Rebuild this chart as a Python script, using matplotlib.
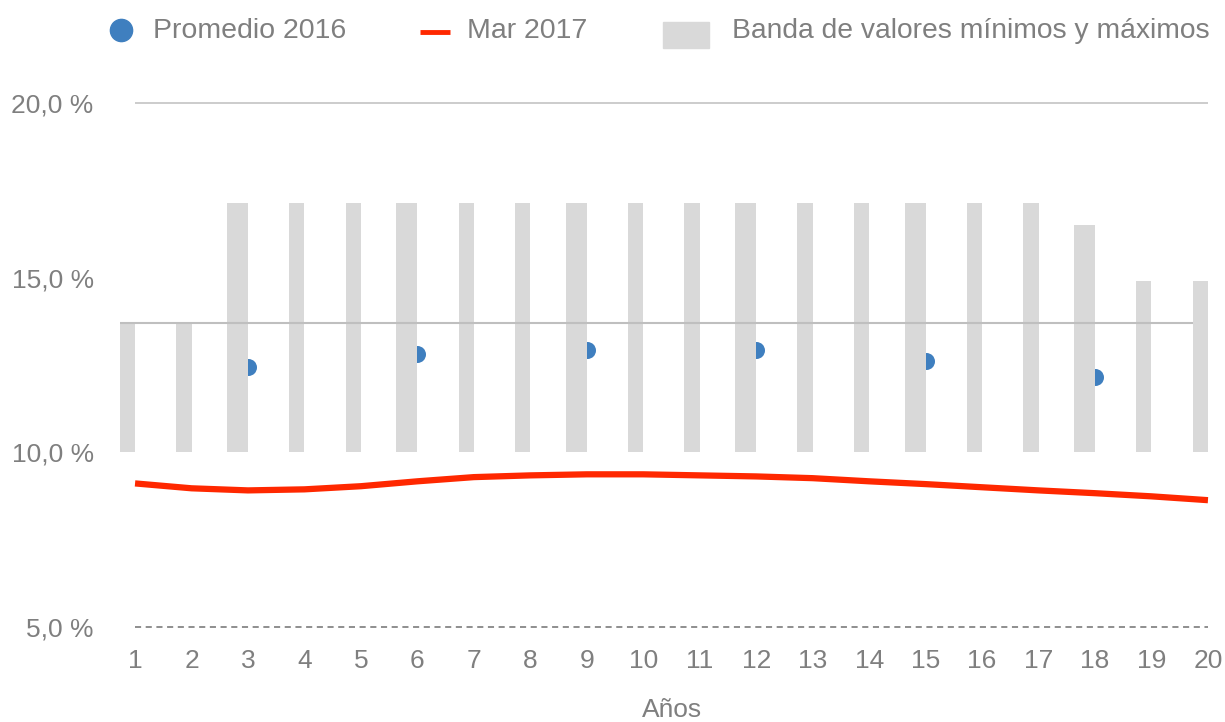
import numpy as np
import matplotlib
matplotlib.use("Agg")
import matplotlib.pyplot as plt
from matplotlib.lines import Line2D
from matplotlib.patches import Rectangle

plt.rcParams['font.family'] = ['Liberation Sans', 'DejaVu Sans']

# datos
anios = list(range(1, 21))
banda_min = [10.0] * 20
banda_max = [13.7, 13.7, 17.15, 17.15, 17.15, 17.15, 17.15, 17.15, 17.15, 17.15,
             17.15, 17.15, 17.15, 17.15, 17.15, 17.15, 17.15, 16.5, 14.9, 14.9]
prom_anios = [3, 6, 9, 12, 15, 18]
prom_2016 = [12.45, 12.82, 12.93, 12.93, 12.62, 12.15]
mar_2017 = [9.11, 8.97, 8.91, 8.94, 9.03, 9.17, 9.29, 9.34, 9.37, 9.37,
            9.34, 9.31, 9.26, 9.17, 9.09, 9.00, 8.91, 8.83, 8.74, 8.63]
nivel_ref = 13.7

txt = '#7f7f7f'
gris = '#d9d9d9'
azul = '#3f7fbf'
rojo = '#ff2800'

W, H = 1225, 722
fig = plt.figure(figsize=(W / 100, H / 100), dpi=100)
ax = fig.add_axes([0.0918, 0.1219, 0.9072, 0.7452])

# bandas: ancho mayor en los años con promedio, barra a la izquierda del tick
anchos = [0.37 if a in prom_anios else 0.27 for a in anios]
x = np.array(anios, dtype=float)
alturas = np.array(banda_max) - np.array(banda_min)
ax.bar(x - np.array(anchos), alturas, bottom=banda_min, width=anchos,
       align='edge', color=gris, zorder=3)

ax.scatter(prom_anios, prom_2016, s=150, color=azul, zorder=2, linewidths=0)
ax.plot(anios, mar_2017, color=rojo, lw=4.5, solid_capstyle='butt', zorder=5)

ax.hlines(20, 1, 20, color='#c8c8c8', lw=1.3, zorder=1)
ax.hlines(nivel_ref, 1 - anchos[0], 20 - anchos[-1], color='#bfbfbf', lw=1.5, zorder=4)
ax.hlines(5, 1, 20, color='#707070', lw=1.1, linestyles=(0, (4, 3)), zorder=1)

ax.set_xlim(0.6, 20.28)
ax.set_ylim(4.8, 20.2)
ax.set_xticks(anios)
ax.set_xticklabels([str(a) for a in anios])
ax.set_yticks([5, 10, 15, 20])
ax.set_yticklabels(['5,0 %', '10,0 %', '15,0 %', '20,0 %'])
ax.tick_params(axis='both', length=0, labelsize=19, labelcolor=txt)
ax.tick_params(axis='y', pad=13.5)
ax.tick_params(axis='x', pad=11)
for s in ax.spines.values():
    s.set_visible(False)

fig.text(672 / W, 1 - 710 / H, 'Años', ha='center', va='center', fontsize=19, color=txt)

# leyenda dibujada a mano en coordenadas de figura
def fx(px):
    return px / W

def fy(py):
    return 1 - py / H

fig.add_artist(Line2D([fx(121)], [fy(30)], marker='o', markersize=16, color=azul,
                      ls='none', transform=fig.transFigure))
fig.text(fx(153), fy(31), 'Promedio 2016', fontsize=20.5, color=txt, va='center')
fig.add_artist(Line2D([fx(420), fx(450)], [fy(32), fy(32)], color=rojo, lw=3.5,
                      solid_capstyle='butt', transform=fig.transFigure))
fig.text(fx(467), fy(31), 'Mar 2017', fontsize=20.5, color=txt, va='center')
fig.add_artist(Rectangle((fx(663), fy(48)), fx(46), 26 / H, color=gris,
                         transform=fig.transFigure))
fig.text(fx(732), fy(31), 'Banda de valores mínimos y máximos', fontsize=20.3,
         color=txt, va='center')

fig.savefig('out.png', dpi=100)
